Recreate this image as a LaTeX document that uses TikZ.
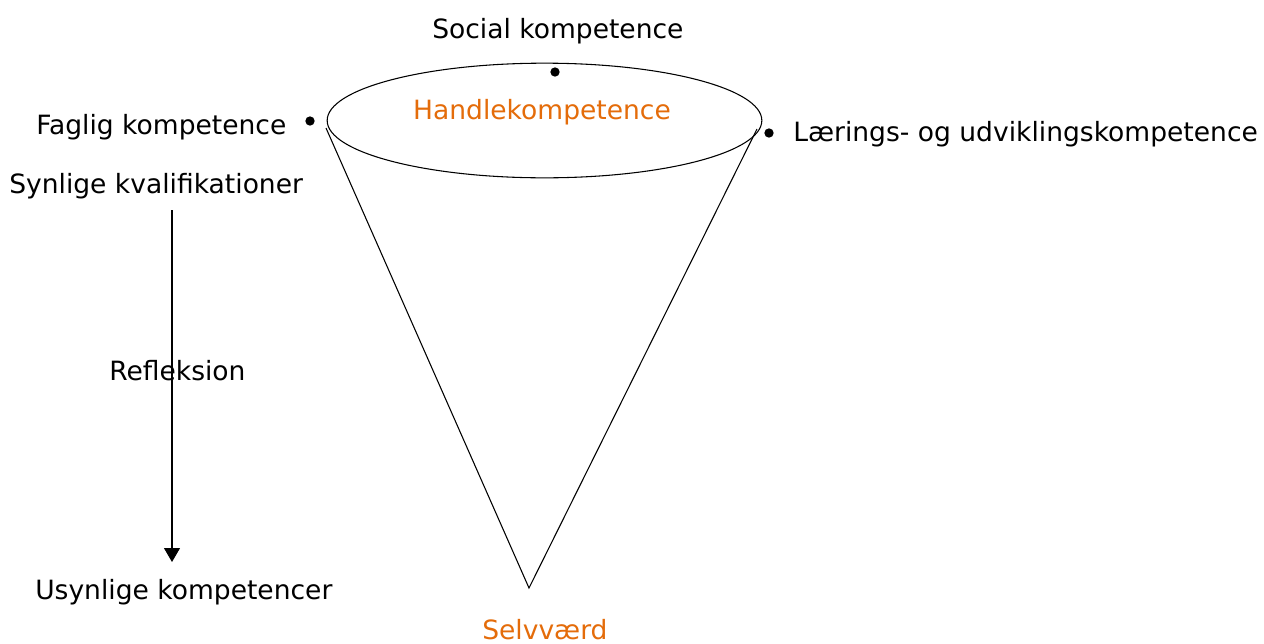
\documentclass[tikz,border=0pt]{standalone}
\usepackage{fontspec}
\setmainfont{DejaVu Sans}
\usepackage{xcolor}
\usetikzlibrary{shapes.geometric,arrows.meta,positioning}
\definecolor{kompOrange}{HTML}{E46C0A}

\begin{document}
\begin{tikzpicture}[x=0.75pt,y=-0.75pt,
    every node/.style={font=\fontsize{19.9}{24}\selectfont, inner sep=0pt},
    label/.style={anchor=base west},
    dot/.style={circle, fill=black, minimum size=7pt},
    kegle/.style={line width=0.8pt}]
    \useasboundingbox (0,0) rectangle (1264,643);

    % Cone top
    \node[draw, ellipse, kegle, minimum width=326pt, minimum height=86pt] (top) at (544.5,120.5) {};
    \node[anchor=base, text=kompOrange] (handle) at (542,119) {Handlekompetence};

    % Cone sides
    \coordinate (venstre) at (326,128);
    \coordinate (hoejre) at (757,129);
    \coordinate (spids) at (529,588);
    \draw[kegle] (venstre) -- (spids) -- (hoejre);
    \node[label, text=kompOrange] (selv) at (482,639) {Selvværd};

    % Competences
    \node[dot] (socdot) at (555,72) {};
    \node[label] (social) at (432,38) {Social kompetence};
    \node[dot] (fagdot) at (310,121) {};
    \node[label] (faglig) at (36,134) {Faglig kompetence};
    \node[dot] (laerdot) at (769,133) {};
    \node[label] (laering) at (793,141) {Lærings- og udviklingskompetence};

    % Reflection axis
    \node[label] (synlige) at (9,193) {Synlige kvalifikationer};
    \node[label] (usynlige) at (35,599) {Usynlige kompetencer};
    \coordinate (reflstart) at (172,210);
    \coordinate (reflslut) at (172,562);
    \draw[kegle, -{Triangle[length=10.5pt, width=12pt]}] (reflstart) -- (reflslut);
    \node[label] (refl) at (109,380) {Refleksion};
\end{tikzpicture}
\end{document}
